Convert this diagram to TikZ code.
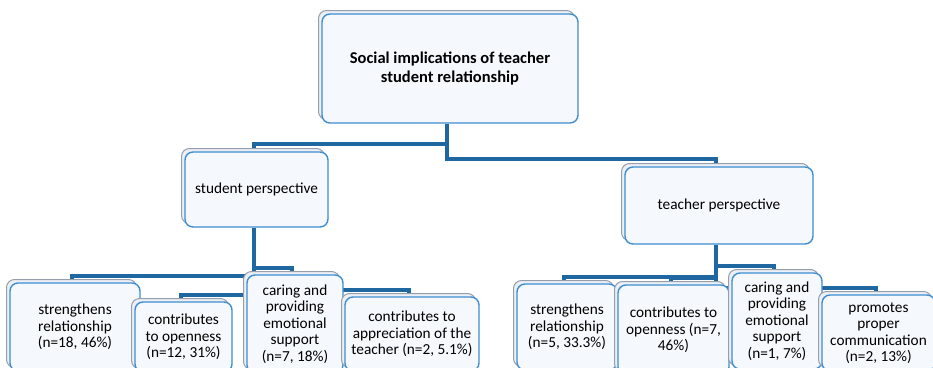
\documentclass[tikz,border=0pt]{standalone}
\usepackage{fontspec}
\setmainfont{Carlito}
\usetikzlibrary{shadows,calc}
\definecolor{linecol}{RGB}{31,103,160}
\definecolor{bordcol}{RGB}{62,142,208}
\definecolor{shadcol}{RGB}{150,158,172}
\definecolor{fillcol}{RGB}{245,248,253}
\definecolor{shadfill}{RGB}{236,240,246}
\pgfdeclarelayer{bg}
\pgfsetlayers{bg,main}
\tikzset{
  box/.style={draw=bordcol, line width=1.4pt, rounded corners=8pt, fill=fillcol,
    align=center, inner sep=2pt, font=\fontsize{15.3}{16.5}\selectfont,
    general shadow={shadow xshift=-3.5pt, shadow yshift=3.5pt, draw=shadcol, line width=1pt, fill=shadfill}},
  link/.style={draw=linecol, line width=4pt},
}
\begin{document}
\begin{tikzpicture}[x=1pt,y=-1pt]
\useasboundingbox (0,0) rectangle (933,367);
\clip (0,0) rectangle (933,367);
% top
\node[box, minimum width=256pt, minimum height=109pt, font=\bfseries\fontsize{16.5}{18.5}\selectfont] (top) at (450,68.5) {Social implications of teacher\\student relationship};
% perspectives
\node[box, minimum width=143pt, minimum height=75pt] (sp) at (256.5,189.5) {student perspective};
\node[box, minimum width=188pt, minimum height=77pt] (tp) at (719,205.5) {teacher perspective};
% student children
\node[box, minimum width=130pt, minimum height=88pt] (s1) at (75,327) {strengthens\\relationship\\(n=18, 46\%)};
\node[box, minimum width=97pt, minimum height=70pt] (s2) at (183.5,337) {contributes\\to openness\\(n=12, 31\%)};
\node[box, minimum width=96pt, minimum height=98pt] (s3) at (295,324) {caring and\\providing\\emotional\\support\\(n=7, 18\%)};
\node[box, minimum width=134pt, minimum height=74pt] (s4) at (412,334) {contributes to\\appreciation of the\\teacher (n=2, 5.1\%)};
% teacher children
\node[box, minimum width=100pt, minimum height=86pt] (t1) at (567,327) {strengthens\\relationship\\(n=5, 33.3\%)};
\node[box, minimum width=111pt, minimum height=90pt] (t2) at (673.5,330) {contributes to\\openness (n=7,\\46\%)};
\node[box, minimum width=90pt, minimum height=96pt] (t3) at (777,321) {caring and\\providing\\emotional\\support\\(n=1, 7\%)};
\node[box, minimum width=113pt, minimum height=76pt] (t4) at (878.5,333) {promotes\\proper\\communication\\(n=2, 13\%)};
% connectors
\begin{pgfonlayer}{bg}
\draw[link] ([xshift=-3pt]top.south) |- ([xshift=-3pt,yshift=7pt]sp.north) -- ([xshift=-3pt]sp.north);
\draw[link] ([xshift=-3pt]top.south) |- ([xshift=-3pt,yshift=7pt]tp.north) -- ([xshift=-3pt]tp.north);
\foreach \c in {s1,s2,s3,s4}
  \draw[link] ([xshift=-3pt]sp.south) |- ([xshift=-3pt,yshift=6pt]\c.north) -- ([xshift=-3pt]\c.north);
\foreach \c in {t1,t2,t3,t4}
  \draw[link] ([xshift=-3pt]tp.south) |- ([xshift=-3pt,yshift=6pt]\c.north) -- ([xshift=-3pt]\c.north);
\end{pgfonlayer}
\end{tikzpicture}
\end{document}
